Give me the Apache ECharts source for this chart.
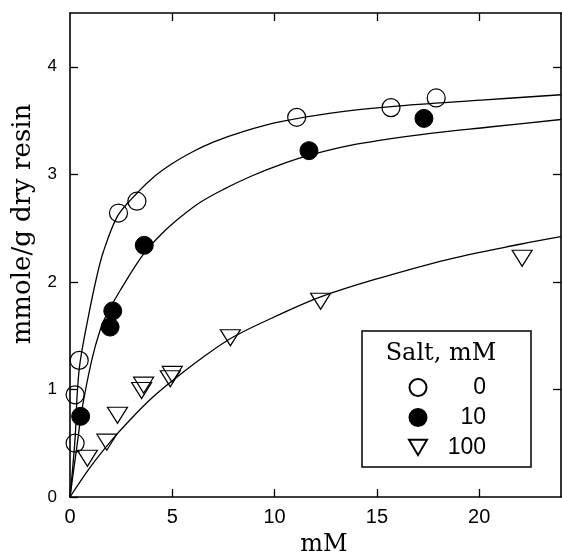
<!DOCTYPE html>
<html>
<head>
<meta charset="utf-8">
<title>Salt isotherms</title>
<script src="https://cdn.jsdelivr.net/npm/echarts@6/dist/echarts.min.js"></script>
<style>
  html, body { margin: 0; padding: 0; background: #fff; }
  #chart { width: 562px; height: 555px; }
</style>
</head>
<body>
<div id="chart"></div>
<script>
// tick values
var xTicks = [0, 5, 10, 15, 20];
var yTicks = [0, 1, 2, 3, 4];

// measured points [mM, mmole/g]
var salt0 = [[0.25, 0.50], [0.25, 0.95], [0.45, 1.27], [2.37, 2.64], [3.27, 2.75],
             [11.08, 3.53], [15.69, 3.62], [17.9, 3.71]];
var salt10 = [[0.52, 0.75], [1.96, 1.58], [2.09, 1.73], [3.63, 2.34],
              [11.68, 3.22], [17.3, 3.52]];
var salt100 = [[0.85, 0.36], [1.8, 0.51], [2.32, 0.76], [3.5, 0.99], [3.6, 1.04],
               [4.9, 1.1], [5.0, 1.14], [7.84, 1.48], [12.25, 1.82], [22.1, 2.22]];

// fitted curves
var fit0 = [[0, 0], [0.25, 0.55], [0.35, 0.95], [0.49, 1.25], [0.9, 1.68], [1.31, 2.05],
            [1.63, 2.28], [2.29, 2.6], [3, 2.77], [4, 2.96], [5, 3.1], [6, 3.21],
            [7, 3.3], [8.5, 3.4], [10.3, 3.49], [12.75, 3.57], [15.7, 3.63], [20.1, 3.69],
            [24, 3.74]];
var fit10 = [[0, 0], [0.2, 0.28], [0.4, 0.56], [0.57, 0.8], [1.06, 1.27], [1.47, 1.55],
             [1.8, 1.7], [2.45, 1.92], [3.6, 2.26], [4.5, 2.45], [5.39, 2.6], [6.37, 2.74],
             [7.5, 2.86], [8.82, 2.98], [10.29, 3.09], [11.76, 3.18], [14, 3.28], [17.16, 3.37],
             [20.5, 3.44], [24, 3.51]];
var fit100 = [[0, 0], [1, 0.28], [2, 0.52], [3, 0.73], [4, 0.92], [5.06, 1.09], [6.5, 1.3],
              [8, 1.49], [10.29, 1.7], [12.25, 1.86], [14.86, 2.02], [18.5, 2.21], [22, 2.35],
              [24, 2.42]];

var legendNames = ['0', '10', '100'];

var chart = echarts.init(document.getElementById('chart'));

function curve(data) {
  return {
    type: 'line',
    data: data,
    showSymbol: false,
    smooth: 0.35,
    lineStyle: { color: '#000', width: 1.3 },
    silent: true,
    z: 2
  };
}

var tickStyle = { color: '#000', width: 1.3 };
var lineStyle = { color: '#000', width: 1.6 };

chart.setOption({
  animation: false,
  backgroundColor: '#fff',
  grid: { left: 70, right: 1, top: 13, bottom: 58 },
  xAxis: [{
    type: 'value', min: 0, max: 24, interval: 5,
    axisLine: { show: true, onZero: false, lineStyle: lineStyle },
    axisTick: { show: true, inside: true, length: 8, lineStyle: tickStyle, customValues: xTicks },
    axisLabel: {
      color: '#000', fontFamily: 'Liberation Sans', fontSize: 20, margin: 10,
      customValues: xTicks
    },
    splitLine: { show: false }
  }, {
    type: 'value', position: 'top', min: 0, max: 24, interval: 5,
    axisLine: { show: true, onZero: false, lineStyle: lineStyle },
    axisTick: { show: true, inside: true, length: 8, lineStyle: tickStyle, customValues: xTicks.slice(1) },
    axisLabel: { show: false },
    splitLine: { show: false }
  }],
  yAxis: [{
    type: 'value', min: 0, max: 4.5, interval: 1,
    axisLine: { show: true, onZero: false, lineStyle: lineStyle },
    axisTick: { show: true, inside: true, length: 8, lineStyle: tickStyle, customValues: yTicks },
    axisLabel: {
      color: '#000', fontFamily: 'Liberation Sans', fontSize: 17, margin: 13,
      customValues: yTicks
    },
    splitLine: { show: false }
  }, {
    type: 'value', position: 'right', min: 0, max: 4.5, interval: 1,
    axisLine: { show: true, onZero: false, lineStyle: lineStyle },
    axisTick: { show: true, inside: true, length: 8, lineStyle: tickStyle, customValues: yTicks.slice(1) },
    axisLabel: { show: false },
    splitLine: { show: false }
  }],
  legend: {
    data: [
      { name: legendNames[0] },
      { name: legendNames[1] },
      { name: legendNames[2], icon: 'path://M0,0 L20,0 L10,17 Z' }
    ],
    orient: 'vertical',
    left: 403, top: 371,
    itemWidth: 18, itemHeight: 17, itemGap: 7,
    selectedMode: false,
    z: 20,
    formatter: function (name) { return '{a|' + name + '}'; },
    textStyle: {
      color: '#000',
      rich: { a: { width: 54, align: 'right', fontSize: 23, fontFamily: 'Liberation Sans', color: '#000' } }
    }
  },
  graphic: [
    {
      type: 'rect', z: 10,
      shape: { x: 362, y: 331, width: 169, height: 136 },
      style: { fill: '#fff', stroke: '#000', lineWidth: 1.5 }
    },
    {
      type: 'text', z: 11, x: 441, y: 354,
      style: { text: 'Salt, mM', font: '24px "DejaVu Serif"', fill: '#000',
               textAlign: 'center', textVerticalAlign: 'middle' }
    },
    {
      type: 'text', x: 324, y: 545,
      style: { text: 'mM', font: '24px "DejaVu Serif"', fill: '#000',
               textAlign: 'center', textVerticalAlign: 'middle' }
    },
    {
      type: 'text', x: 23, y: 224, rotation: Math.PI / 2,
      style: { text: 'mmole/g dry resin', font: '26px "DejaVu Serif"', fill: '#000',
               textAlign: 'center', textVerticalAlign: 'middle' }
    }
  ],
  series: [
    curve(fit0),
    curve(fit10),
    curve(fit100),
    {
      name: '0', type: 'scatter', data: salt0, symbol: 'circle', symbolSize: 18, z: 5,
      itemStyle: { color: 'rgba(255,255,255,0)', borderColor: '#000', borderWidth: 1.2, opacity: 1 }
    },
    {
      name: '10', type: 'scatter', data: salt10, symbol: 'circle', symbolSize: 18, z: 5,
      itemStyle: { color: '#000', borderColor: '#000', borderWidth: 1, opacity: 1 }
    },
    {
      name: '100', type: 'scatter', data: salt100, symbol: 'triangle', symbolRotate: 180,
      symbolSize: [20, 16], z: 5,
      itemStyle: { color: 'rgba(255,255,255,0)', borderColor: '#000', borderWidth: 1.2, opacity: 1 }
    }
  ]
});
</script>
</body>
</html>
